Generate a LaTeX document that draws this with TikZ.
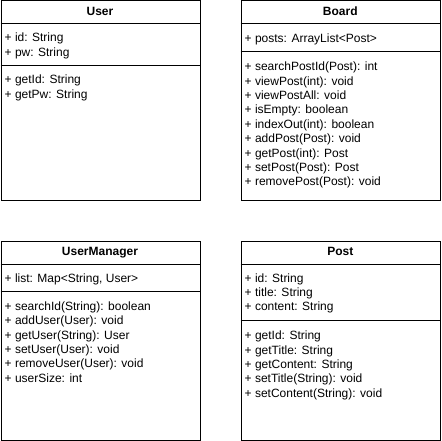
\documentclass[tikz,border=0pt]{standalone}
\usepackage{fontspec}
\setmainfont{Liberation Sans}
\tikzset{
  classbox/.style={draw=black, line width=1pt, fill=white, rectangle, inner sep=0pt, anchor=north west},
  sepline/.style={draw=black, line width=1pt},
  ctitle/.style={anchor=base, inner sep=0pt, font=\fontsize{12}{14.4}\selectfont\bfseries},
  member/.style={anchor=base west, inner sep=0pt, font=\fontsize{12}{14.4}\selectfont},
}
\begin{document}
\begin{tikzpicture}[x=1pt, y=-1pt]
\useasboundingbox (0,0) rectangle (441,441);
% ---------- User ----------
\node[classbox, minimum width=199.5pt, minimum height=199.5pt] (user) at (0.5,0.5) {};
\draw[sepline] (0.5,24) -- (200,24);
\draw[sepline] (0.5,66) -- (200,66);
\node[ctitle] (usert) at (100,15.5) {User};
\node[member] (u1) at (4.5,41.5) {+ id: String};
\node[member] (u2) at (4.5,56.5) {+ pw: String};
\node[member] (u3) at (4.5,84) {+ getId: String};
\node[member] (u4) at (4.5,99) {+ getPw: String};
% ---------- Board ----------
\node[classbox, minimum width=199.5pt, minimum height=199.5pt] (board) at (240.5,0.5) {};
\draw[sepline] (240.5,24) -- (440,24);
\draw[sepline] (240.5,52) -- (440,52);
\node[ctitle] (boardt) at (340.25,15.5) {Board};
\node[member] (b0) at (244.5,43) {+ posts: ArrayList<Post>};
\foreach \t [count=\i from 0] in {%
  {+ searchPostId(Post): int},
  {+ viewPost(int): void},
  {+ viewPostAll: void},
  {+ isEmpty: boolean},
  {+ indexOut(int): boolean},
  {+ addPost(Post): void},
  {+ getPost(int): Post},
  {+ setPost(Post): Post},
  {+ removePost(Post): void}}
  \node[member] (bm\i) at (244.5,70.7+14.4*\i) {\t};
% ---------- UserManager ----------
\node[classbox, minimum width=199.5pt, minimum height=199.5pt] (um) at (0.5,240.5) {};
\draw[sepline] (0.5,264) -- (200,264);
\draw[sepline] (0.5,291.5) -- (200,291.5);
\node[ctitle] (umt) at (100,255.8) {UserManager};
\node[member] (um0) at (4.5,282.3) {+ list: Map<String, User>};
\foreach \t [count=\i from 0] in {%
  {+ searchId(String): boolean},
  {+ addUser(User): void},
  {+ getUser(String): User},
  {+ setUser(User): void},
  {+ removeUser(User): void},
  {+ userSize: int}}
  \node[member] (umm\i) at (4.5,310.3+14.4*\i) {\t};
% ---------- Post ----------
\node[classbox, minimum width=199.5pt, minimum height=199.5pt] (post) at (240.5,240.5) {};
\draw[sepline] (240.5,264) -- (440,264);
\draw[sepline] (240.5,320.5) -- (440,320.5);
\node[ctitle] (postt) at (340.25,255.8) {Post};
\foreach \t [count=\i from 0] in {%
  {+ id: String},
  {+ title: String},
  {+ content: String}}
  \node[member] (pa\i) at (244.5,282+14.4*\i) {\t};
\foreach \t [count=\i from 0] in {%
  {+ getId: String},
  {+ getTitle: String},
  {+ getContent: String},
  {+ setTitle(String): void},
  {+ setContent(String): void}}
  \node[member] (pm\i) at (244.5,339.6+14.4*\i) {\t};
\end{tikzpicture}
\end{document}
